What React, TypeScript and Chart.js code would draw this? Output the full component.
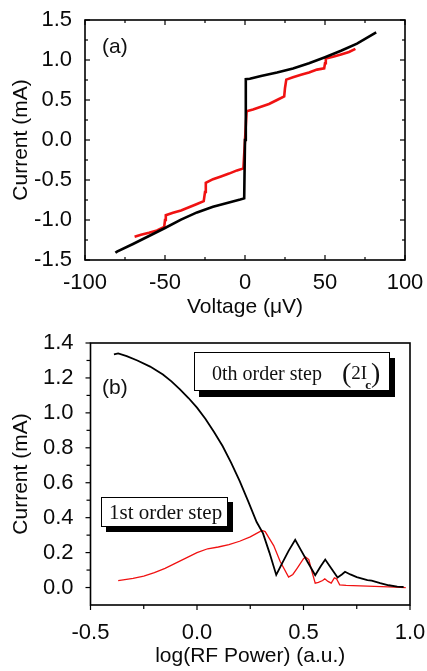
import React, { useEffect, useRef } from 'react';
import { Chart, registerables } from 'chart.js';

Chart.register(...registerables);

const FONT = '"Liberation Sans", Arial, Helvetica, sans-serif';
const SERIF = '"Liberation Serif", "Times New Roman", serif';

// ---------- Panel (a): I-V curves ----------
// without RF (black)
const ivNoRfV = [-81, -80, -70, -60, -50, -40, -30, -20, -10, -3, -0.5, 0, 0.5, 3, 10, 20, 30, 40, 50, 60, 70, 82];
const ivNoRfI = [-1.41, -1.395, -1.3, -1.2, -1.1, -0.995, -0.905, -0.835, -0.78, -0.745, -0.73, 0.0, 0.76, 0.765, 0.8, 0.845, 0.895, 0.96, 1.035, 1.115, 1.205, 1.345];
// with RF (red) – Shapiro steps
const ivRfV = [-69, -65, -60, -55, -50.5, -50, -49.5, -45, -40, -35, -30, -25.8, -25, -24.5, -20, -15, -10, -5, -1, 0, 1, 5, 10, 15, 20, 24.5, 25, 25.8, 30, 35, 40, 45, 49.5, 50, 50.5, 55, 60, 65, 69];
const ivRfI = [-1.21, -1.185, -1.16, -1.13, -1.085, -1.0, -0.94, -0.91, -0.88, -0.84, -0.8, -0.765, -0.65, -0.535, -0.49, -0.455, -0.42, -0.38, -0.355, 0.0, 0.36, 0.38, 0.415, 0.45, 0.5, 0.545, 0.65, 0.755, 0.785, 0.815, 0.845, 0.88, 0.895, 0.96, 1.02, 1.04, 1.07, 1.1, 1.14];

const aXMajor = [-100, -50, 0, 50, 100];
const aXMinor = [-75, -25, 25, 75];
const aYMajor = [-1.5, -1.0, -0.5, 0.0, 0.5, 1.0, 1.5];
const aYMinor = [-1.25, -0.75, -0.25, 0.25, 0.75, 1.25];

// ---------- Panel (b): step height vs RF power ----------
const step0Power = [-0.39, -0.37, -0.33, -0.28, -0.22, -0.16, -0.12, -0.08, -0.04, 0.0, 0.04, 0.08, 0.12, 0.16, 0.2, 0.24, 0.28, 0.31, 0.34, 0.372, 0.4, 0.43, 0.461, 0.49, 0.52, 0.555, 0.58, 0.602, 0.63, 0.66, 0.68, 0.695, 0.72, 0.75, 0.8, 0.82, 0.86, 0.9, 0.94, 0.97];
const step0Current = [1.335, 1.34, 1.325, 1.3, 1.265, 1.22, 1.18, 1.135, 1.085, 1.03, 0.965, 0.89, 0.81, 0.715, 0.61, 0.495, 0.375, 0.31, 0.2, 0.072, 0.14, 0.21, 0.273, 0.21, 0.145, 0.07, 0.12, 0.16, 0.11, 0.058, 0.075, 0.09, 0.075, 0.06, 0.042, 0.04, 0.025, 0.013, 0.005, 0.003];
const step1Power = [-0.37, -0.3, -0.25, -0.2, -0.15, -0.1, -0.05, 0.0, 0.05, 0.1, 0.15, 0.2, 0.25, 0.28, 0.305, 0.32, 0.34, 0.36, 0.39, 0.43, 0.45, 0.47, 0.5, 0.51, 0.525, 0.54, 0.555, 0.57, 0.59, 0.6, 0.615, 0.63, 0.645, 0.655, 0.67, 0.7, 0.8, 0.9, 0.98];
const step1Current = [0.04, 0.052, 0.065, 0.085, 0.11, 0.14, 0.17, 0.2, 0.222, 0.232, 0.245, 0.265, 0.29, 0.31, 0.327, 0.32, 0.28, 0.24, 0.15, 0.06, 0.075, 0.11, 0.165, 0.175, 0.16, 0.09, 0.025, 0.03, 0.04, 0.05, 0.035, 0.025, 0.055, 0.05, 0.015, 0.012, 0.008, 0.004, 0.0];

const bXMajor = [-0.5, 0.0, 0.5, 1.0];
const bXMinor = [-0.25, 0.25, 0.75];
const bYMajor = [0.0, 0.2, 0.4, 0.6, 0.8, 1.0, 1.2, 1.4];
const bYMinor = [0.1, 0.3, 0.5, 0.7, 0.9, 1.1, 1.3];

const pts = (xs: number[], ys: number[]) => xs.map((x, i) => ({ x, y: ys[i] }));

const frameTicks = {
  id: 'frameTicks',
  afterDatasetsDraw(chart: any, _args: any, o: any) {
    const { ctx, chartArea } = chart;
    const { left, right, top, bottom } = chartArea;
    const xs = chart.scales.x;
    const ys = chart.scales.y;
    const dir = o.inward ? 1 : -1;
    ctx.save();
    ctx.strokeStyle = '#000';
    ctx.lineWidth = o.tickWidth;
    const seg = (x1: number, y1: number, x2: number, y2: number) => {
      ctx.beginPath();
      ctx.moveTo(x1, y1);
      ctx.lineTo(x2, y2);
      ctx.stroke();
    };
    const doX = (vals: number[], len: number) => vals.forEach((v) => {
      const p = xs.getPixelForValue(v);
      seg(p, bottom, p, bottom - dir * len);
      if (o.mirror) seg(p, top, p, top + dir * len);
    });
    const doY = (vals: number[], len: number) => vals.forEach((v) => {
      const p = ys.getPixelForValue(v);
      seg(left, p, left + dir * len, p);
      if (o.mirror) seg(right, p, right - dir * len, p);
    });
    doX(o.xMajor, o.major);
    doX(o.xMinor, o.minor);
    doY(o.yMajor, o.major);
    doY(o.yMinor, o.minor);
    ctx.lineWidth = o.frameWidth;
    ctx.strokeRect(left, top, right - left, bottom - top);
    ctx.restore();
  },
};

function axis(opts: any) {
  return {
    type: 'linear',
    min: opts.min,
    max: opts.max,
    grid: { display: false },
    border: { display: false },
    afterBuildTicks: (s: any) => {
      s.ticks = opts.major.map((value: number) => ({ value }));
    },
    afterFit: (s: any) => {
      if (opts.width !== undefined) s.width = opts.width;
      if (opts.height !== undefined) s.height = opts.height;
      s.paddingLeft = 0;
      s.paddingRight = 0;
      s.paddingTop = 0;
      s.paddingBottom = 0;
    },
    ticks: {
      padding: opts.padding,
      autoSkip: false,
      maxRotation: 0,
      font: { family: FONT, size: 22 },
      color: '#0a0a0a',
      callback: opts.fmt,
    },
    title: {
      display: true,
      text: opts.title,
      font: { family: FONT, size: 21 },
      color: '#0a0a0a',
      padding: opts.titlePad,
    },
  };
}

export default function App() {
  const refA = useRef<HTMLCanvasElement>(null);
  const refB = useRef<HTMLCanvasElement>(null);

  useEffect(() => {
    const chartA = new Chart(refA.current as HTMLCanvasElement, {
      type: 'line',
      data: {
        datasets: [
          { data: pts(ivNoRfV, ivNoRfI), borderColor: '#000', borderWidth: 2.6, pointRadius: 0, tension: 0, fill: false },
          { data: pts(ivRfV, ivRfI), borderColor: '#f01212', borderWidth: 2.6, pointRadius: 0, tension: 0, fill: false },
        ],
      },
      options: {
        animation: false,
        responsive: false,
        events: [],
        layout: { padding: { top: 20, right: 22, left: 0, bottom: 0 } },
        plugins: {
          legend: { display: false },
          tooltip: { enabled: false },
          frameTicks: { inward: true, mirror: true, major: 5, minor: 3, tickWidth: 1.2, frameWidth: 1.6, xMajor: aXMajor, xMinor: aXMinor, yMajor: aYMajor, yMinor: aYMinor },
        } as any,
        scales: {
          x: axis({ min: -100, max: 100, major: aXMajor, height: 70, padding: 1.8, fmt: (v: number) => String(v), title: 'Voltage (\u03bcV)', titlePad: { top: 0, bottom: 10 } }),
          y: axis({ min: -1.5, max: 1.5, major: aYMajor, width: 85, padding: 5, fmt: (v: number) => v.toFixed(1), title: 'Current (mA)', titlePad: { top: 9, bottom: 0 } }),
        } as any,
      },
      plugins: [frameTicks],
    } as any);

    const chartB = new Chart(refB.current as HTMLCanvasElement, {
      type: 'line',
      data: {
        datasets: [
          { data: pts(step0Power, step0Current), borderColor: '#000', borderWidth: 1.8, pointRadius: 0, tension: 0, fill: false },
          { data: pts(step1Power, step1Current), borderColor: '#f01212', borderWidth: 1.3, pointRadius: 0, tension: 0, fill: false },
        ],
      },
      options: {
        animation: false,
        responsive: false,
        events: [],
        layout: { padding: { top: 13, right: 17, left: 0, bottom: 0 } },
        plugins: {
          legend: { display: false },
          tooltip: { enabled: false },
          frameTicks: { inward: false, mirror: false, major: 5, minor: 4, tickWidth: 1.2, frameWidth: 1.6, xMajor: bXMajor, xMinor: bXMinor, yMajor: bYMajor, yMinor: bYMinor },
        } as any,
        scales: {
          x: axis({ min: -0.5, max: 1.0, major: bXMajor, height: 66, padding: 6.8, fmt: (v: number) => v.toFixed(1), title: 'log(RF Power) (a.u.)', titlePad: { top: 0, bottom: 1.7 } }),
          y: axis({ min: -0.1, max: 1.4, major: bYMajor, width: 90.5, padding: 9, fmt: (v: number) => v.toFixed(1), title: 'Current (mA)', titlePad: { top: 9, bottom: 0 } }),
        } as any,
      },
      plugins: [frameTicks],
    } as any);

    return () => {
      chartA.destroy();
      chartB.destroy();
    };
  }, []);

  const boxBase: React.CSSProperties = {
    position: 'absolute',
    background: '#fff',
    border: '1.3px solid #000',
    boxSizing: 'border-box',
    fontFamily: SERIF,
    color: '#111',
    whiteSpace: 'nowrap',
    display: 'flex',
    alignItems: 'center',
  };

  return (
    <div style={{ position: 'absolute', left: 0, top: 0, width: 427, height: 671, background: '#fff', overflow: 'hidden' }}>
      <canvas ref={refA} width={427} height={330} style={{ position: 'absolute', left: 0, top: 0, width: 427, height: 330 }} />
      <canvas ref={refB} width={427} height={341} style={{ position: 'absolute', left: 0, top: 330, width: 427, height: 341 }} />
      <div style={{ position: 'absolute', left: 102, top: 35, fontFamily: FONT, fontSize: 21, lineHeight: '21px', color: '#111' }}>(a)</div>
      <div style={{ position: 'absolute', left: 102, top: 376, fontFamily: FONT, fontSize: 21, lineHeight: '21px', color: '#111' }}>(b)</div>
      <div style={{ ...boxBase, left: 194, top: 352, width: 196, height: 39, paddingLeft: 17, paddingTop: 3, fontSize: 20, boxShadow: '5px 6px 0 #000' }}>
        <span>0th order step</span>
        <span style={{ fontSize: 28, lineHeight: '20px', marginLeft: 20 }}>(</span>
        <span style={{ fontSize: 19 }}>2I</span>
        <span style={{ fontSize: 13, fontWeight: 'bold', position: 'relative', top: 12, marginLeft: -2 }}>c</span>
        <span style={{ fontSize: 28, lineHeight: '20px' }}>)</span>
      </div>
      <div style={{ ...boxBase, left: 101, top: 497, width: 127, height: 30, paddingLeft: 7, fontSize: 21, boxShadow: '5px 5px 0 #000' }}>
        <span>1st order step</span>
      </div>
    </div>
  );
}
